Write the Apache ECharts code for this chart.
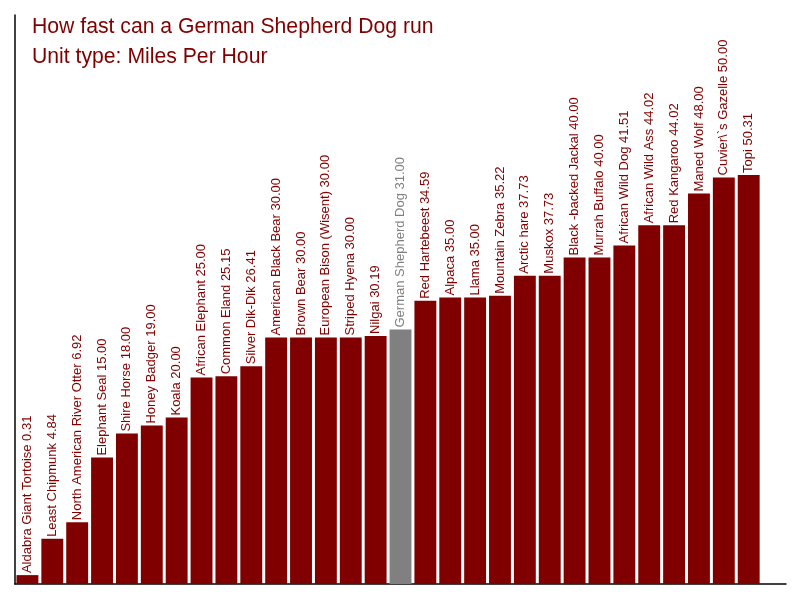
<!DOCTYPE html>
<html>
<head>
<meta charset="utf-8">
<script src="https://cdn.jsdelivr.net/npm/echarts@6/dist/echarts.min.js"></script>
<style>
  html, body { margin: 0; padding: 0; background: #fff; }
  #chart { width: 800px; height: 600px; }
</style>
</head>
<body>
<div id="chart"></div>
<script>
const animals = [
    'Aldabra Giant Tortoise', 'Least Chipmunk', 'North American River Otter', 'Elephant Seal',
    'Shire Horse', 'Honey Badger', 'Koala', 'African Elephant', 'Common Eland', 'Silver Dik-Dik',
    'American Black Bear', 'Brown Bear', 'European Bison (Wisent)', 'Striped Hyena', 'Nilgai',
    'German Shepherd Dog', 'Red Hartebeest', 'Alpaca', 'Llama', 'Mountain Zebra', 'Arctic hare',
    'Muskox', 'Black -backed Jackal', 'Murrah Buffalo', 'African Wild Dog', 'African Wild Ass',
    'Red Kangaroo', 'Maned Wolf', 'Cuvier\\`s Gazelle', 'Topi',
];
const speeds = [
    0.31, 4.84, 6.92, 15.00, 18.00, 19.00, 20.00, 25.00, 25.15, 26.41,
    30.00, 30.00, 30.00, 30.00, 30.19, 31.00, 34.59, 35.00, 35.00, 35.22,
    37.73, 37.73, 40.00, 40.00, 41.51, 44.02, 44.02, 48.00, 50.00, 50.31,
];
const highlight = 'German Shepherd Dog';

const mainColor = '#800000';
const greyColor = '#808080';

// the original axis starts a bit below zero and bars grow from the axis floor
const yMin = -0.8;
const yMax = 70.3;

const chart = echarts.init(document.getElementById('chart'));

const option = {
    animation: false,
    title: {
        text: 'How fast can a German Shepherd Dog run\nUnit type: Miles Per Hour',
        left: 27,
        top: 7,
        textStyle: {
            color: mainColor,
            fontFamily: 'Liberation Sans',
            fontSize: 21.2,
            fontWeight: 'normal',
            lineHeight: 30,
        },
    },
    grid: {
        left: 15,
        right: 14,
        top: 15,
        bottom: 16,
    },
    xAxis: {
        type: 'category',
        data: animals,
        // one empty slot after the last bar, as in the original
        max: animals.length,
        axisLine: { onZero: false, lineStyle: { color: '#000', width: 1.5 } },
        axisTick: { show: false },
        axisLabel: { show: false },
    },
    yAxis: {
        type: 'value',
        min: yMin,
        max: yMax,
        startValue: yMin,
        axisLine: { show: true, lineStyle: { color: '#000', width: 1.5 } },
        axisTick: { show: false },
        axisLabel: { show: false },
        splitLine: { show: false },
    },
    series: [
        {
            type: 'bar',
            barCategoryGap: '12%',
            data: speeds.map((v, i) => {
                const isDog = animals[i] === highlight;
                return {
                    value: v,
                    itemStyle: { color: isDog ? greyColor : mainColor },
                    label: { color: isDog ? greyColor : mainColor },
                };
            }),
            label: {
                show: true,
                position: 'top',
                rotate: 90,
                align: 'left',
                verticalAlign: 'middle',
                distance: 2,
                fontFamily: 'Liberation Sans',
                fontSize: 13,
                formatter: (p) => `${animals[p.dataIndex]} ${speeds[p.dataIndex].toFixed(2)}`,
            },
        },
    ],
};

chart.setOption(option);
</script>
</body>
</html>
